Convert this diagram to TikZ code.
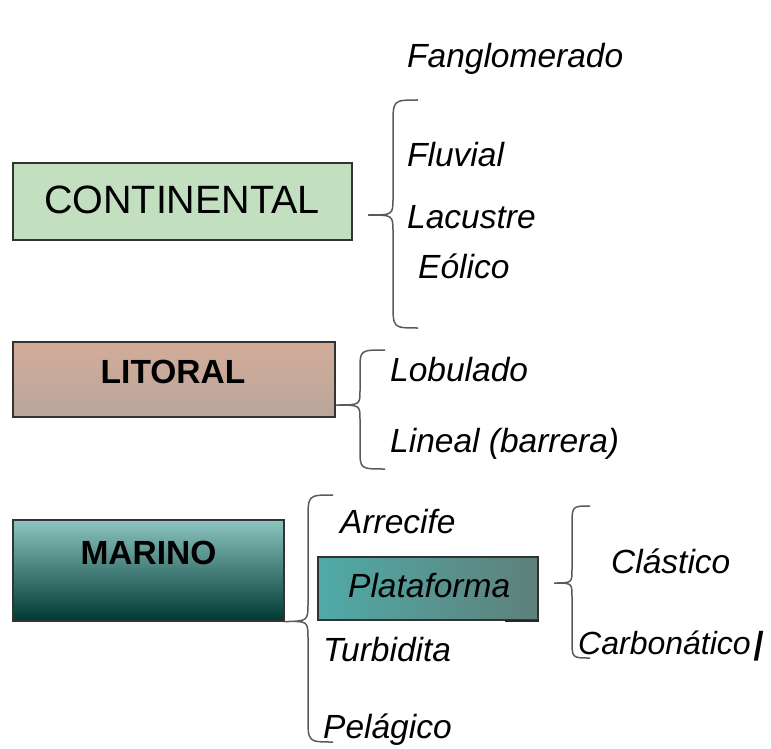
\documentclass[tikz,border=0pt]{standalone}
\usepackage{fontspec}
\setmainfont{Liberation Sans}
\usepackage{xcolor}
\definecolor{contfill}{HTML}{C2DFC0}
\definecolor{litoraltop}{HTML}{D4AC98}
\definecolor{litoralbot}{HTML}{B8A69C}
\definecolor{marinotop}{HTML}{8CC4C0}
\definecolor{marinobot}{HTML}{003834}
\definecolor{platleft}{HTML}{50AAA8}
\definecolor{platright}{HTML}{5F807A}
\definecolor{bracegray}{HTML}{5A5A5A}

\begin{document}
\begin{tikzpicture}[x=1pt,y=-1pt,
  catbox/.style={draw=black!80, line width=1.2pt, inner sep=0pt},
  cattext/.style={inner sep=0pt, anchor=base, font=\fontsize{33.5}{38}\selectfont},
  subtext/.style={inner sep=0pt, anchor=base west, font=\itshape\fontsize{33.5}{38}\selectfont},
  bracket/.style={draw=bracegray, line width=1.5pt}]
\useasboundingbox (0,0) rectangle (771,749);
% main boxes
\node[catbox, fill=contfill, minimum width=339pt, minimum height=77pt] (continental) at (182.5,201.5) {};
\node[catbox, top color=litoraltop, bottom color=litoralbot, minimum width=322pt, minimum height=75pt] (litoral) at (174,379.5) {};
\node[catbox, top color=marinotop, bottom color=marinobot, minimum width=271pt, minimum height=101pt] (marino) at (148.5,570.5) {};
\node[catbox, left color=platleft, right color=platright, minimum width=220pt, minimum height=63pt] (plataforma) at (428,588.5) {};
\draw[black!85, line width=2pt] ([xshift=-34pt]plataforma.south east) -- (plataforma.south east);
\node[cattext, font=\fontsize{39.5}{44}\selectfont] (continental text) at (182,213) {CONTINENTAL};
\node[cattext, font=\bfseries\fontsize{33.5}{38}\selectfont] (litoral text) at (173,383) {LITORAL};
\node[cattext, font=\bfseries\fontsize{33.5}{38}\selectfont] (marino text) at (148.5,564) {MARINO};
\node[subtext] (plataforma text) at (348,597) {Plataforma};
% continental
\node[subtext] (fanglomerado) at (407,68) {Fanglomerado};
\node[subtext] (fluvial) at (407,166) {Fluvial};
\node[subtext] (lacustre) at (407,228) {Lacustre};
\node[subtext] (eolico) at (418,278) {Eólico};
\draw[bracket] (418,100) .. controls (393,100) .. (393,125) -- (393,198)
  .. controls (393,215) .. (368,215) .. controls (393,215) .. (393,232)
  -- (393,303) .. controls (393,328) .. (418,328);
% litoral
\node[subtext] (lobulado) at (390,381) {Lobulado};
\node[subtext] (lineal) at (390,452) {Lineal (barrera)};
\draw[bracket] (385,350) .. controls (360,350) .. (360,370) -- (360,391)
  .. controls (360,405) .. (litoral.east |- 0,405) .. controls (360,405) .. (360,419)
  -- (360,449) .. controls (360,469) .. (385,469);
% marino
\node[subtext] (arrecife) at (340,533) {Arrecife};
\node[subtext] (turbidita) at (323,661) {Turbidita};
\node[subtext] (pelagico) at (323,738) {Pelágico};
\draw[bracket] (333,495) .. controls (308,495) .. (308,520) -- (308,603)
  .. controls (308,621) .. (marino.south east) .. controls (308,621) .. (308,639)
  -- (308,717) .. controls (308,742) .. (333,742);
% plataforma
\node[subtext] (clastico) at (611,573) {Clástico};
\node[subtext, font=\itshape\fontsize{32}{36}\selectfont] (carbonatico) at (578,654) {Carbonático};
\node[subtext, font=\itshape\fontsize{32}{36}\selectfont, xslant=0.18, transform shape] (cursor) at ([xshift=1pt]carbonatico.base east) {\textbf{|}};
\draw[bracket] (590,506) .. controls (572,506) .. (572,526) -- (572,569)
  .. controls (572,583) .. (554,583) .. controls (572,583) .. (572,597)
  -- (572,640) .. controls (572,658) .. (590,658);
\end{tikzpicture}
\end{document}
